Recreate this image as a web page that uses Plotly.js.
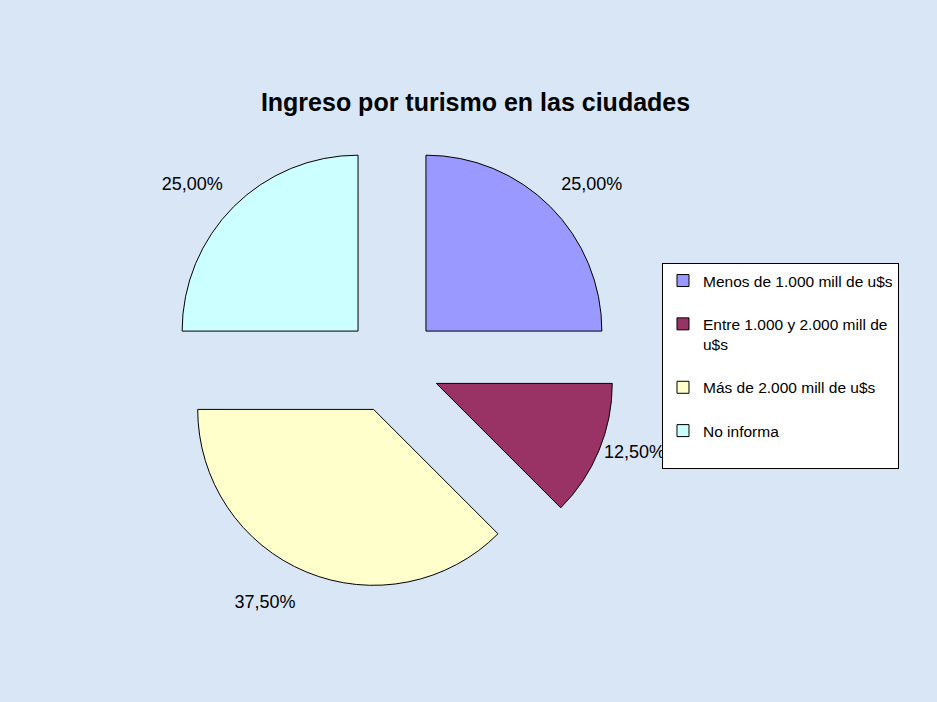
<!DOCTYPE html>
<html>
<head>
<meta charset="utf-8">
<script src="https://cdn.plot.ly/plotly-3.0.1.min.js"></script>
<style>
html,body{margin:0;padding:0;background:#d8e6f6;}
#chart{width:937px;height:702px;}
</style>
</head>
<body>
<div id="chart"></div>
<script>
var categories = [
  "Menos de 1.000 mill de u$s",
  "Entre 1.000 y 2.000 mill de u$s",
  "Más de 2.000 mill de u$s",
  "No informa"
];
var values = [25, 12.5, 37.5, 25];
var colors = ["#9999ff", "#993366", "#ffffcc", "#ccffff"];

// legend display names: wrap the long one, pad entries for spacing
var legendNames = categories.map(function (c) {
  var name = c === "Entre 1.000 y 2.000 mill de u$s" ? "Entre 1.000 y 2.000 mill de<br>u$s" : c;
  return name + "<br>&nbsp;";
});

// label templates (blank lines only nudge label placement away from the arcs)
var labelTemplates = [
  "%{percent:.2%}<br>&nbsp;",
  "%{percent:.2%}",
  "&nbsp;<br>%{percent:.2%}",
  "%{percent:.2%}<br>&nbsp;"
];

var trace = {
  type: "pie",
  labels: legendNames,
  values: values,
  sort: false,
  direction: "clockwise",
  rotation: 0,
  pull: 0.273,
  marker: { colors: colors, line: { color: "#000000", width: 1 } },
  textposition: "outside",
  texttemplate: labelTemplates,
  outsidetextfont: { family: "Liberation Sans, Arial, sans-serif", size: 18, color: "#000000" },
  hoverinfo: "label+percent",
  domain: { x: [0.1793, 0.6574], y: [0.161, 0.799] },
  automargin: false
};

var layout = {
  width: 937,
  height: 702,
  margin: { l: 0, r: 0, t: 0, b: 0 },
  paper_bgcolor: "#d8e6f6",
  separators: ",.",
  font: { family: "Liberation Sans, Arial, sans-serif", color: "#000000" },
  title: {
    text: "<b>Ingreso por turismo en las ciudades</b>",
    font: { family: "Liberation Sans, Arial, sans-serif", size: 25, color: "#000000" },
    x: 0.5075, xanchor: "center",
    y: 0.854, yanchor: "middle"
  },
  showlegend: true,
  legend: {
    x: 0.7065, xanchor: "left",
    y: 0.6254, yanchor: "top",
    bgcolor: "#ffffff",
    bordercolor: "#000000",
    borderwidth: 1,
    valign: "top",
    font: { family: "Liberation Sans, Arial, sans-serif", size: 15.5, color: "#000000" }
  }
};

Plotly.newPlot("chart", [trace], layout, { displayModeBar: false, staticPlot: true });
</script>
</body>
</html>
